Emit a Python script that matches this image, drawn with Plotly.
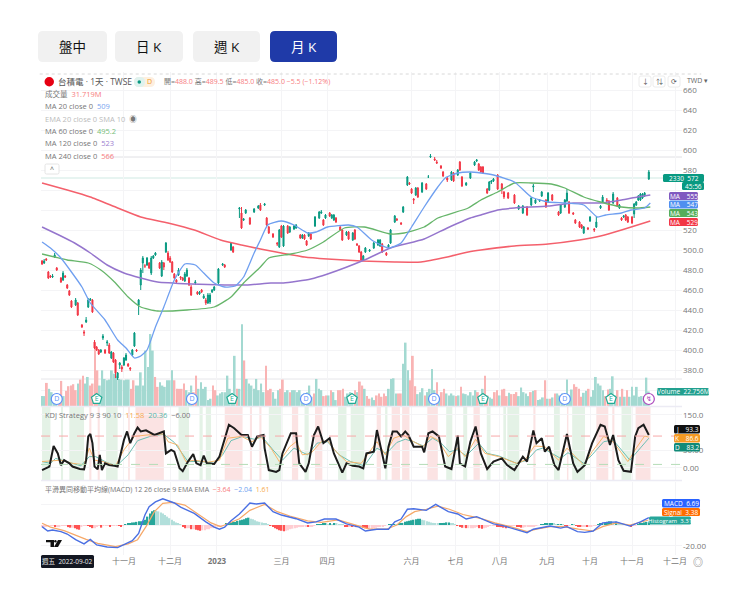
import numpy as np
import plotly.graph_objects as go

# chart box in page pixels
LEFT, RIGHT, TOP, BOTTOM = 41, 682, 72, 555
FONT = "Open Sans, Noto Sans CJK TC, sans-serif"
GREEN = "#089981"
RED = "#f23645"

# candles (bar number, open, close, high, low)
candle_idx = [0,1,2,3,4,5,6,7,9,10, 11,12,13,14,16,17,19,20,21,22, 23,24,25,26,27,28,29,30,31,32,
    33,34,35,36,37,38,39,40,41,42, 43,44,45,46,47,48,49,50,51,52, 53,54,56,57,58,59,60,61,62,63,
    64,65,66,67,68,69,70,71,73,74, 75,76,77,78,79,80,81,82,84,86, 87,90,91,94,95,96,97,99,101,103,
    104,106,107,108,110,112,113,114,115,117, 118,120,121,123,124,125,126,127,128,130,
    132,133,134,135,137,138,139,140,142,143, 145,146,148,149,150,151,152,153,154,156,
    158,160,161,162,164,165,166,168,169,171, 172,174,175,176,177,178,179,181,183,184,
    185,187,188,190,191,193,195,196,198,199, 200,202,204,206,207,208,209,210,212,213,
    214,215,217,219,220,222,225,227,229,231, 233,234,235,237,238,240,241,243,246,247,
    249,250,251,253,254,256,257,258,260,261, 263,264,266,267,269,270,272,274,275,276,
    277,278,279,281,282,283,284,285,286,287, 289]
opens = [489,487,491,478,474,473,493,482,472,470, 474,465,459,449,445,447,425,418,428,443, 450,450,408,403,400,398,412,400,407,405,
    392,397,390,372,385,383,385,390,386,382, 395,404,400,445,465,487,484,485,487,477, 492,495,487,474,487,498,497,492,488,476,
    470,475,473,472,469,474,472,463,467,458, 456,460,452,450,447,448,458,460,467,485, 485,500,503,541,537,530,537,532,538,542,
    545,545,532,523,516,507,503,524,504,524, 518,521,522,515,512,515,509,514,516,524,
    532,537,530,532,537,532,530,532,523,520, 515,518,510,520,506,504,498,490,498,499,
    502,505,504,506,497,503,507,528,531,527, 538,565,567,561,551,555,562,558,566,573,
    593,591,588,584,578,572,570,577,575,588, 573,565,572,585,589,586,583,583,561,560,
    568,569,575,566,558,557,555,541,537,543, 545,563,547,549,554,550,548,555,538,537,
    543,549,548,537,530,528,525,517,522,529, 521,523,542,548,550,549,547,552,542,532,
    533,535,533,533,536,545,550,550,552,554, 571]
closes = [486,489,490,472,473,474,495,480,468,477, 473,462,455,443,450,435,423,417,430,450, 451,438,402,400,396,400,414,397,408,397,
    398,388,377,377,387,381,392,395,384,381, 400,417,399,450,480,492,484,492,482,492, 494,497,482,488,483,507,490,488,478,472,
    468,480,472,470,476,480,465,455,468,456, 458,458,454,447,455,455,460,463,481,486, 483,507,498,542,522,531,540,526,541,544,
    540,546,525,517,513,506,520,513,524,517, 523,524,525,512,515,511,505,517,511,533,
    538,538,525,535,534,535,535,528,520,510, 518,511,517,511,505,498,490,494,502,500,
    507,510,510,498,495,505,520,534,530,526, 543,573,566,557,550,562,553,567,561,573,
    594,590,587,582,574,570,578,569,580,580, 564,567,577,588,590,580,578,577,557,568,
    569,571,561,561,553,552,547,544,544,535, 552,564,550,550,558,543,557,550,535,545,
    550,557,537,536,527,523,522,523,521,533, 520,528,544,553,549,540,556,544,545,530,
    534,530,528,527,546,548,554,556,556,557, 578]
highs = [490,491,492,479,475,476,497,483,473,479, 475,466,460,450,452,448,426,420,433,452, 452,451,410,404,401,401,416,401,410,407,
    399,398,391,378,388,385,393,397,387,383, 401,418,401,451,482,494,486,493,488,494, 495,498,488,490,488,508,499,494,489,477,
    471,482,474,473,478,482,473,465,470,459, 459,461,456,452,457,457,461,464,482,487, 486,508,504,543,543,532,541,533,542,545,
    547,547,533,524,517,508,521,525,525,525, 524,525,526,516,516,516,510,518,517,534,
    539,540,531,536,538,536,536,533,524,521, 519,519,518,521,507,505,499,495,503,501,
    508,511,511,507,498,506,521,535,532,528, 544,574,568,562,552,563,563,568,567,575,
    596,593,590,585,579,573,579,578,581,589, 574,568,578,589,591,587,584,584,562,569,
    570,572,576,567,559,558,556,545,545,544, 553,566,551,551,559,551,558,556,539,546,
    551,561,549,538,531,529,526,524,523,534, 522,534,545,555,552,550,558,553,546,533,
    535,536,534,534,547,549,555,557,557,558, 580]
lows = [485,486,489,471,472,472,492,479,467,469, 472,461,454,442,444,434,422,414,427,442, 449,437,401,399,395,397,410,396,404,396,
    391,387,372,370,381,378,384,389,383,379, 394,403,398,435,460,477,482,484,481,475, 491,494,481,473,480,497,489,487,477,471,
    466,474,470,469,468,473,464,454,465,455, 455,457,451,445,446,446,457,459,466,484, 482,499,497,532,521,529,536,525,537,541,
    539,544,524,516,512,504,502,512,503,516, 517,520,521,511,511,510,504,513,510,523,
    531,536,524,531,533,531,529,527,519,509, 514,510,509,510,504,497,489,489,497,498,
    501,504,503,497,494,502,506,527,529,525, 537,564,565,556,546,554,552,557,560,572,
    592,589,586,581,573,568,569,568,574,579, 563,564,571,584,588,579,577,576,556,559,
    566,568,560,556,551,551,546,540,536,534, 544,558,546,548,553,542,547,549,534,536,
    542,548,536,535,526,522,521,516,520,528, 518,522,541,547,548,539,546,543,541,529,
    532,529,527,526,532,544,549,549,551,553, 570]

# moving averages, corner points
ma20_idx = [0,4,9,14,19,23,30,36,40,44,47,50,54,58,63,68,73,77,82,87,92,96,101,104,107.5,114,120,126.5,130.5,136,146,150,157,165,171,176,182,188.5,192,198,204,209,215,225,233,241,249,258,264.5,268.5,276,280.5,287,289.7]
ma20_val = [508,502,492,478,463,447,430,410,402,392,394,400,423,443,470,486,485,477,467,463,464,473,497,510,525,529,525,517,518,523,525,523,510,502,507,523,543,563,572,577,578,577,575,568,553,548,547,545,533,535,537,540,542,547]
ma60_idx = [0,6,12,22,28,34.5,41,47,55,69,82,90,96,104,108,118.5,126.5,134,144,153.5,166,172.5,182,188.5,203,209,217,225,233,242.5,249,258,266,276,283.6,289.7]
ma60_val = [496,493,490,487,480,468,453,443,439,440,443,453,467,483,492,496,500,508,522,523,516,517,523,532,542,550,558,567,567,566,562,553,548,543,542,543]
ma120_idx = [0,8,15.5,23,31,39,47,55,71,87,98,109,115,128,136,153.5,166,182,193,204,209,217,225,241,253,266,276,283.6,289.7]
ma120_val = [523,515,507,497,485,477,472,468,466,465,465,467,467,471,476,490,502,511,522,532,535,540,542,544,547,547,550,553,555]
ma240_idx = [0,12,23,36,47,60,72.5,85,95,104,114,125,136,152,168,180.5,193,203,209,225,241,256,266,276,289.7]
ma240_val = [567,560,553,542,533,527,520,510,505,501,497,493,491,489,488,488,493,498,500,504,506,510,514,520,529]

# volume in millions, minus means a red bar
volume = [15,15,-35,26,21,15,16,-18,-38,15, -23,-30,-31,-33,-24,34,-40,-46,34,44, -31,-34,-96,-54,31,54,41,39,40,54,
    49,46,41,40,39,40,40,-26,-39,31, 31,51,31,84,59,109,84,-44,-29,36, 31,29,39,39,54,-39,-26,-26,-26,-34,
    24,21,31,-21,-46,26,36,26,29,9, 11,-31,-24,16,19,21,21,46,26,14, 76,-26,26,124,-69,41,34,31,26,41,
    24,34,21,-61,-24,-26,21,11,24,-26, -40,21,24,-21,24,24,21,24,14,19, 21,31,14,-19,41,26,24,-15,-16,16,
    -24,21,9,-24,-24,-26,14,19,21,16, -24,21,-37,-31,26,-15,-11,
    13,9,-16,-19,-14,-19,-15,26,41,42, 19,-19,-19,64,96,54,-39,-76,-30,18, 21,27,-16,21,26,56,24,-36,11,-21,
    -26,19,16,19,16,-15,16,-29,19,18, 16,21,16,24,-21,16,26,-46,-16,13, 11,-21,-24,16,-25,-26,-15,20,-18,-18,
    -21,15,28,21,19,15,-21,23,-24,9, 10,13,-39,11,-11,13,-19,19,16,19, 13,40,16,25,-33,-29,-26,-14,20,23,
    -26,14,24,44,34,31,24,-15,-25,26, 45,16,-24,14,-26,14,-24,14,29,16, 29,14,15,15,43,22]

# KDJ pane
j_idx = [0,2,3.5,5.5,7.5,9,10.5,13,14.5,18,20,21,22,23,24,25,26.5,27.5,28.5,30,32,34.5,36,37.5,39,40.5,42,44,45.5,47,49.5,53.5,58,59,61.5,63,65.5,67,69.5,72,73.5,75.5,77,78.5,82,84.5,86.5,89,91.5,95,98,100,102.5,105.5,106,108,111.5,113,114.5,118.5,121,122.5,125.5,127,129.5,131.5,134,137,139,141.5,143,145,148,151,153,154.5,
    158,159.5,161,163.5,165,167,169,171,173,174.5,177,181,182,184,186,189,192,195,198,199,201.5,204,206.5,209,212,215,219,221.5,225,229,231,234,235.5,238,239.5,241.5,244,246,250,253,255,258.5,262,266,268,270.5,272,274.5,277,280.5,282.5,284,286.5,289]
j_val = [-6,-1,4,62,41,8,22,13,4,-3,-4,22,89,96,70,4,-4,37,-6,13,8,6,4,41,79,103,70,98,114,103,106,93,103,41,51,46,-1,-9,18,39,13,8,35,13,11,32,74,122,112,93,93,60,89,93,56,-6,-11,-6,41,98,98,13,-11,13,93,117,70,84,41,4,-13,13,6,4,-1,41,
    46,107,65,-1,60,103,103,89,103,93,60,60,44,98,103,89,4,-3,91,13,4,74,117,41,-3,18,27,8,-6,32,18,106,70,84,46,60,8,-6,96,13,-11,8,70,122,117,65,93,22,-8,-11,89,112,122,93]
k_idx = [0,4,9,14.5,20,22.5,25,29,35,39,44,50,58,60,64.5,68.5,72.5,79,84.5,88.5,95,100,104,109,113,118,121,124,128,133,136,140,145,152,159.5,163.5,167.5,172,177,181.5,185,188.5,193.5,198,201.5,206.5,211,217.5,226,230,234.5,239.5,246,250,258,262,267.5,272,279,283,287,289]
k_val = [18,20,22,13,9,56,22,18,6,51,89,93,96,74,65,18,22,16,22,84,89,74,89,56,18,60,74,37,41,74,77,46,18,13,74,37,84,93,74,60,89,79,32,56,32,81,41,32,13,22,62,60,22,56,8,46,89,74,18,56,90,87]
d_idx = [0,4,6.5,12,18.5,22.5,25.5,31,35.5,41,45.5,52,58,63,69.5,76,82,86,90,95.5,101,105,110,114.5,120,126.5,131,136,141.5,147,153.5,159.5,164,169,173,177,181.5,186,190,194,198,202,208,212,217.5,226,231,235.5,238.5,247,250.5,258,262,267.5,272,280,285,289]
d_val = [18,13,27,18,6,32,32,15,6,37,77,90,95,72,18,18,13,37,77,89,81,87,51,22,56,37,70,74,37,18,6,56,41,72,81,74,62,84,70,46,51,34,70,41,34,13,22,51,56,27,43,13,37,74,79,22,56,84]
kdj_red = [(22.5,23.5),(26.5,27.5),(41,41.8),(44.5,58),(87,95.5),(99,100),(103.5,104.5),(119,122),(130,133.5),(159.4,161.4),(166.5,170.5),(171.5,175),(183.5,188.5),(205.5,208.5),(234,235),(250,250.7),(264,269.7),(271.6,272.6),(282.7,289.8)]
kdj_green = [(0,4),(9,10),(13,20),(30.5,36),(65,70),(75,76.5),(78,80.5),(108,114.5),(125,127),(141,145),(147,153.5),(163.4,164.5),(192.5,195.4),(200.6,202.5),(211.8,213.6),(219.7,221),(221.6,227.3),(243.8,246.6),(252.5,258.6),(276,280.7)]

# MACD pane
macd_idx = [0,2.7,5,9,12,16,20,23,26,31,36,40,43,46,49,51,54,57.5,63,66,72.5,78,82,84.5,87,90,94,99,102,106,110,114,121,126.5,130.5,134.5,140,145,151,154,159.4,165,168,171,174,177,183,187.5,191,193.5,198,202,207,211,215,219.5,226,231,234,242,247,250,255,258.5,262.5,267,273.5,280,285,289]
macd_val = [-1.6,-5.7,-4.8,-6.3,-8.6,-14,-18,-13.7,-19,-21,-21.6,-17.5,-15,-8,9.5,17.5,22,25,21,17,11,3,-2,-4,-2,4,10.5,21,20,21,12.7,9.5,6,2,3,5.7,5.7,1,-2,-5.7,-4,-4,3,5.7,15,15.5,14,19.7,16,12.7,10.5,5.7,8,4.8,1,-0.6,-4.8,-7.3,-4,-1,-3,-1.6,-6.3,-7,-5.7,2,3,-1,3,7]
signal_idx = [0,4,10.5,15.5,21,26.5,35,41,45.5,49.5,53.5,57.5,62,68,74,80.5,85,89,94,99,106,112,118,126.5,133,141,147,156,164,169,173.5,177.5,183,188.5,194,200.5,205,209.5,215.7,223,231,235.5,242,248,255.5,262.5,267,273.5,280,289]
signal_val = [1.6,-2,-5.4,-9.5,-13.7,-17.5,-20.6,-18,-14,-1.6,12.7,20.6,21.6,19,11,2,-1.6,2,6,14,19.7,12.7,8.6,4,2.5,4.8,1,-4,-4,0,8,12.7,15,18,15,10,8,6,2,-1.6,-6.3,-4,-1.6,-1.6,-4,-5.7,-1.6,2,0,4.8]
hist = [-1.5,-1.5,-1,-0.5,-0.5,-0.3,-2,-2,-2,-0.5,-0.5,-0.3,-2,-2.5,-2.5,-3,-4,-4.5,-1,-0.3,-0.3,-0.5,-1,-3,-3,-1,-0.5,-2.5,-0.3,-0.3,-0.3,-1,-0.5,-0.3,-0.2,-0.5,-1.5,-0.3,0.3,1,2,2.5,2.5,3,3.5,3.5,4,5,8,11,13,14,13.5,13,12,11,9.5,8,6.5,5,3.5,2.5,1.5,0.5,-1.5,-3,-3,-3,-4,-4,-4.5,-5,-5.5,-5,-5,-4,-4,-3,-3,-2.5,-2,-1.5,-0.5,0,1,1.5,2.5,3,3,4,4.5,5,5.5,6.5,7,6,5.5,4.5,3.5,3,2.5,2,1,0.5,-0.5,-1.5,-3,-4,-5,-5.5,-6,-5.5,-5,-4,-3.5,-3,-2.5,-2,-2,-1.5,-1.5,-2,-2,-1.5,-0.5,0.3,0.5,0.8,1,1,0.8,1,0.8,1.2,1,0.8,0.5,0.2,-1,-1.5,-1.5,-2,-1.5,-2,-1.5,-1.5,-2.5,-3,-3.5,-3.5,-3.5,-3,-2.5,-2,
    -1.5,-1,-0.5,0,0.3,0.5,0.5,0.3,0.3,1,2,3,3.5,4,4.5,5,5.5,6,6,5,4.5,3.5,3,2.5,2,1.5,1,1,1.5,2,2.5,2.5,2,1.5,0.5,-0.5,-2,-2.5,-2.5,-3,-3,-3,-3,-2.5,-2,-3,-3.5,-3,-2.5,-1,-0.5,-0.5,-0.5,-1,-1.5,-2,-2.5,-3,-1.5,-1,-0.5,-0.5,-1,-2,-2.5,-2.5,-2,-2,-2,-1.5,-1,-0.5,0,0.5,0.5,1,1,1.5,1.5,1,0.5,0.5,0.5,0.3,-0.3,-0.5,-0.3,0.5,0.3,-0.5,-1,-1.5,-1.5,-1.5,-2,-1.5,-1,-0.5,-0.3,0.3,1,1.5,2.5,3,3.5,3.5,3,3,2.5,1.5,1,0.5,0,-0.5,-1,-0.5,-0.3,0.3,1,2,2.5,3,3.3]

# axis labels
month_idx = [39,61,83.3,114,136,176,197,218,240.5,261,281,301.5]
month_txt = ["十一月","十二月","<b>2023</b>","三月","四月","六月","七月","八月","九月","十月","十一月","十二月"]
price_ticks = [660,640,620,600,580,560,540,520,500,480,460,440,420,400,380,360]
price_txt = ["660","640","620","600","580","","","520","500.0","480.0","460.0","440.0","420.0","400.0","380.0",""]

# event flags under the volume bars
div_idx = [7,71.4,125.7,186.7,249]
earn_idx = [26,90.5,147.6,210,271]
split_idx = [289]

last_price = 572
WIDTH_P = RIGHT - LEFT
HEIGHT_P = BOTTOM - TOP


def xp(x):
    return (x - LEFT) / WIDTH_P


def yp(y):
    return (BOTTOM - y) / HEIGHT_P


def round_box(x0, y0, x1, y1, r, fill, line="rgba(0,0,0,0)"):
    a, b, c, d = xp(x0), xp(x1), yp(y0), yp(y1)
    rx, ry = r / WIDTH_P, r / HEIGHT_P
    path = (f"M {a+rx} {c} L {b-rx} {c} Q {b} {c} {b} {c-ry} L {b} {d+ry} Q {b} {d} {b-rx} {d} "
            f"L {a+rx} {d} Q {a} {d} {a} {d+ry} L {a} {c-ry} Q {a} {c} {a+rx} {c} Z")
    return dict(type="path", xref="paper", yref="paper", path=path, fillcolor=fill,
                line=dict(color=line, width=1), layer="above")


def poly(points, fill):
    path = "M " + " L ".join(f"{xp(x)} {yp(y)}" for x, y in points) + " Z"
    return dict(type="path", xref="paper", yref="paper", path=path, fillcolor=fill, line_width=0, layer="above")


def text_at(x, y, s, size=7.5, color="#777", anchor="left", bg=None):
    return dict(xref="paper", yref="paper", x=xp(x), y=yp(y), text=s, showarrow=False,
                xanchor=anchor, yanchor="middle", font=dict(family=FONT, size=size, color=color),
                borderpad=0, bgcolor=bg)


shapes = []
notes = []


def tag(x0, x1, y0, y1, color, s, size=6.5):
    shapes.append(round_box(x0, y0, x1, y1, 1.5, color))
    notes.append(text_at((x0 + x1) / 2, (y0 + y1) / 2, s, size=size, color="white", anchor="center"))


fig = go.Figure()

vol = np.array(volume, dtype=float)
vol_x = np.arange(len(vol)) * 289 / (len(vol) - 1)
fig.add_trace(go.Bar(x=vol_x, y=np.abs(vol), width=0.85, yaxis="y",
                     marker=dict(color=["#a3d9d1" if v > 0 else "#f9b4b4" for v in vol], line_width=0)))

smooth = dict(shape="spline", smoothing=0.5)
fig.add_trace(go.Scatter(x=ma240_idx, y=ma240_val, yaxis="y2", mode="lines", line=dict(color="#f4606c", width=1.6, **smooth)))
fig.add_trace(go.Scatter(x=ma120_idx, y=ma120_val, yaxis="y2", mode="lines", line=dict(color="#9575cd", width=1.5, **smooth)))
fig.add_trace(go.Scatter(x=ma60_idx, y=ma60_val, yaxis="y2", mode="lines", line=dict(color="#66b56a", width=1.3, **smooth)))
fig.add_trace(go.Scatter(x=ma20_idx, y=ma20_val, yaxis="y2", mode="lines", line=dict(color="#6f9ff0", width=1.3, **smooth)))

fig.add_trace(go.Candlestick(x=candle_idx, open=opens, high=highs, low=lows, close=closes, yaxis="y2",
                             whiskerwidth=0,
                             increasing=dict(line=dict(color=GREEN, width=1), fillcolor=GREEN),
                             decreasing=dict(line=dict(color=RED, width=1), fillcolor=RED)))

# flags
fig.add_trace(go.Scatter(x=div_idx, y=[351] * len(div_idx), yaxis="y2", mode="markers+text", text=["D"] * len(div_idx),
                         textposition="middle center", textfont=dict(size=7, color="#5b8ff9", family=FONT),
                         marker=dict(symbol="circle", size=11, color="white", line=dict(color="#5b8ff9", width=1.2))))
fig.add_trace(go.Scatter(x=earn_idx, y=[351] * len(earn_idx), yaxis="y2", mode="markers+text", text=["E"] * len(earn_idx),
                         textposition="middle center", textfont=dict(size=7, color="#22ab94", family=FONT),
                         marker=dict(symbol="pentagon", size=11, color="white", line=dict(color="#22ab94", width=1.2))))
fig.add_trace(go.Scatter(x=split_idx, y=[351], yaxis="y2", mode="markers+text", text=["↯"],
                         textposition="middle center", textfont=dict(size=7, color="#ab47bc", family="DejaVu Sans"),
                         marker=dict(symbol="circle", size=11, color="white", line=dict(color="#ab47bc", width=1.2))))

# KDJ
fig.add_trace(go.Scatter(x=d_idx, y=d_val, yaxis="y3", mode="lines", line=dict(color="#6dbfb3", width=1)))
fig.add_trace(go.Scatter(x=k_idx, y=k_val, yaxis="y3", mode="lines", line=dict(color="#f7b56b", width=1)))
fig.add_trace(go.Scatter(x=j_idx, y=j_val, yaxis="y3", mode="lines", line=dict(color="#1c1c1c", width=2)))

# MACD
h = np.array(hist)
h_x = np.arange(len(h)) * 289 / (len(h) - 1)
h_step = np.diff(h, prepend=h[0])
h_col = []
for v, s in zip(h, h_step):
    if v >= 0:
        h_col.append("#26a69a" if s >= 0 else "#b2dfdb")
    else:
        h_col.append("#ff5252" if s < 0 else "#ffcdd2")
fig.add_trace(go.Bar(x=h_x, y=h, width=0.7, yaxis="y4", marker=dict(color=h_col, line_width=0)))
fig.add_trace(go.Scatter(x=signal_idx, y=signal_val, yaxis="y4", mode="lines", line=dict(color="#f6a868", width=1.2)))
fig.add_trace(go.Scatter(x=macd_idx, y=macd_val, yaxis="y4", mode="lines", line=dict(color="#4a6fe3", width=1.4)))

# KDJ background bands
for a, b in kdj_red:
    shapes.append(dict(type="rect", xref="x", yref="y3 domain", x0=a, x1=b, y0=0, y1=1, fillcolor="#fbe3e3", line_width=0, layer="below"))
for a, b in kdj_green:
    shapes.append(dict(type="rect", xref="x", yref="y3 domain", x0=a, x1=b, y0=0, y1=1, fillcolor="#e4f2e6", line_width=0, layer="below"))

# KDJ bands 90/10 and horizontal lines
shapes.append(dict(type="line", xref="paper", yref="y3", x0=0, x1=1, y0=90, y1=90, line=dict(color="#f7a8a8", width=1, dash="dash")))
shapes.append(dict(type="line", xref="paper", yref="y3", x0=0, x1=1, y0=10, y1=10, line=dict(color="#b5dcb7", width=1, dash="dash")))
shapes.append(dict(type="line", xref="paper", yref="y2", x0=0, x1=xp(663), y0=last_price, y1=last_price, line=dict(color="#cfe9e3", width=1), layer="below"))
shapes.append(dict(type="line", xref="paper", yref="y2", x0=xp(105), x1=1, y0=593, y1=593, line=dict(color="#e0e0e4", width=1), layer="below"))
shapes.append(dict(type="line", xref="paper", yref="y2", x0=0, x1=1, y0=371, y1=371, line=dict(color="#e6e6ea", width=1), layer="below"))
# pane borders
for y in (406.5, 480.5):
    shapes.append(dict(type="line", xref="paper", yref="paper", x0=0, x1=1, y0=yp(y), y1=yp(y), line=dict(color="#ecebf4", width=1.5)))
shapes.append(dict(type="line", xref="paper", yref="paper", x0=-0.002, x1=1.03, y0=yp(74), y1=yp(74), line=dict(color="#d8d8d8", width=1, dash="dot")))

# page buttons
for x0, x1, s, fill, col in [(38, 107, "盤中", "#f1f1f1", "#111"), (115, 183, "日 K", "#f1f1f1", "#111"),
                             (193, 260, "週 K", "#f1f1f1", "#111"), (270, 337, "月 K", "#1f3aa8", "white")]:
    shapes.append(round_box(x0, 31, x1, 62, 5, fill))
    notes.append(text_at((x0 + x1) / 2, 47, s, size=13.5, color=col, anchor="center"))

# legend block
shapes.append(dict(type="circle", xref="paper", yref="paper", x0=xp(44.5), x1=xp(54), y0=yp(86.5), y1=yp(77), fillcolor="#e60012", line_width=0))
notes.append(text_at(57, 82, "台積電 · 1天 · TWSE", size=8.5, color="#555"))
shapes.append(round_box(134, 77, 155, 87, 5, "#fdf0e0"))
shapes.append(round_box(134, 77, 145, 87, 5, "#dff2ee"))
shapes.append(dict(type="circle", xref="paper", yref="paper", x0=xp(137.5), x1=xp(141), y0=yp(83.7), y1=yp(80.2), fillcolor=GREEN, line_width=0))
notes.append(text_at(149, 82, "D", size=7, color="#f59a23", anchor="center"))
s_red = "#f77c80"
notes.append(text_at(163, 82, f'開=<span style="color:{s_red}">488.0</span> 高=<span style="color:{s_red}">489.5</span> 低=<span style="color:{s_red}">485.0</span> 收=<span style="color:{s_red}">485.0</span> <span style="color:{s_red}">−5.5 (−1.12%)</span>', size=7))
notes.append(text_at(44, 94, f'成交量  <span style="color:{s_red}">31.719M</span>'))
notes.append(text_at(44, 106, 'MA 20 close 0  <span style="color:#7aa5f0">509</span>'))
notes.append(text_at(44, 118.5, 'EMA 20 close 0 SMA 10  <span style="color:#777">◉</span>', color="#bbb"))
notes.append(text_at(44, 131, 'MA 60 close 0  <span style="color:#74bd78">495.2</span>'))
notes.append(text_at(44, 143, 'MA 120 close 0  <span style="color:#9c80d0">523</span>'))
notes.append(text_at(44, 156, f'MA 240 close 0  <span style="color:{s_red}">566</span>'))
shapes.append(round_box(45, 164, 59, 174, 1.5, "white", "#e4e4e4"))
notes.append(text_at(52, 169, "^", size=7, color="#555", anchor="center"))
notes.append(text_at(44, 415, 'KDJ Strategy 9 3 90 10  <span style="color:#f7a94e">11.58</span>  <span style="color:#59b5a8">20.36</span>  <span style="color:#777">−6.00</span>'))
notes.append(text_at(44, 489, f'平滑異同移動平均線(MACD) 12 26 close 9 EMA EMA  <span style="color:{s_red}">−3.64</span>  <span style="color:#6f9ff0">−2.04</span>  <span style="color:#f7a94e">1.61</span>', size=7))

# top right controls
for x0, x1, s in [(639, 651, "↓"), (653, 665, "⇅"), (668, 680, "⟳")]:
    shapes.append(round_box(x0, 76, x1, 87, 2, "white", "#ececec"))
    notes.append(text_at((x0 + x1) / 2, 81.5, s, size=7, color="#555", anchor="center"))
notes.append(text_at(686, 80, "TWD ▾", size=7, color="#666"))

# price side tags
tag(663, 704, 174, 182, GREEN, "2330  572")
tag(682, 704, 182, 190, GREEN, "45:56")
tag(669, 698, 192, 200, "#8059c0", "MA    555")
tag(669, 698, 200.5, 208.5, "#4f8ff0", "MA    547")
tag(669, 698, 209, 217, "#55ad5a", "MA    543")
tag(669, 698, 218, 226, "#f23645", "MA    529")
tag(657, 709, 388, 395.5, "#22a08f", "Volume  22.756M", size=6.5)
tag(674, 700, 425, 433.5, "#111111", "J    93.3")
tag(674, 700, 434, 442.5, "#f59a23", "K    86.6")
tag(674, 700, 443, 451.5, "#108a78", "D    83.2")
tag(662, 700, 499, 507.5, "#2962ff", "MACD  6.69")
tag(662, 700, 508, 516, "#ff6d00", "Signal  3.38")
tag(649, 691, 516.5, 524.5, "#26a69a", "Histogram  3.31", size=6)

# bottom bits
shapes.append(round_box(41, 555, 94, 568, 1.5, "#131722"))
notes.append(text_at(67.5, 561.5, "週五  2022-09-02", size=6.5, color="#e8e8e8", anchor="center"))
# TradingView mark
shapes.append(poly([(46, 540), (54, 540), (54, 547), (50.5, 547), (50.5, 542.2), (46, 542.2)], "#111"))
shapes.append(dict(type="circle", xref="paper", yref="paper", x0=xp(54.2), x1=xp(56.6), y0=yp(542.4), y1=yp(540), fillcolor="#111", line_width=0, layer="above"))
shapes.append(poly([(58, 540), (62, 540), (58, 547), (54, 547)], "#111"))
notes.append(text_at(698, 561.5, "◎", size=10, color="#777", anchor="center"))

fig.update_layout(
    width=750, height=607, autosize=False, showlegend=False, plot_bgcolor="white", paper_bgcolor="white",
    margin=dict(l=LEFT, r=750 - RIGHT, t=TOP, b=607 - BOTTOM),
    font=dict(family=FONT, size=8, color="#777"),
    barmode="overlay", hovermode=False, shapes=shapes, annotations=notes,
    xaxis=dict(range=[-0.5, 304.8], anchor="y4", tickmode="array", tickvals=month_idx, ticktext=month_txt,
               showgrid=True, gridcolor="#f4f4f6", zeroline=False, showline=False, ticks="", rangeslider=dict(visible=False),
               tickfont=dict(size=8, color="#777")),
    yaxis=dict(domain=[yp(406), 1], range=[0, 506], visible=False, showgrid=False, fixedrange=True),
    yaxis2=dict(domain=[yp(406), 1], range=[344, 678], overlaying="y", side="right", anchor="x", tickmode="array",
                tickvals=price_ticks, ticktext=price_txt, showgrid=True, gridcolor="#f4f4f6", zeroline=False, ticks="",
                tickfont=dict(size=8, color="#777")),
    yaxis3=dict(domain=[yp(480), yp(407)], range=[-34, 172], side="right", anchor="x", tickmode="array",
                tickvals=[150, 50, 0], ticktext=["150.0", "50.00", "0.00"], showgrid=True, gridcolor="#f4f4f6",
                zeroline=False, ticks="", tickfont=dict(size=8, color="#777")),
    yaxis4=dict(domain=[0, yp(482)], range=[-28.6, 41], side="right", anchor="x", tickmode="array",
                tickvals=[-20, 0, 20], ticktext=["-20.00", "", ""], showgrid=True, gridcolor="#f4f4f6",
                zeroline=False, ticks="", tickfont=dict(size=8, color="#777")),
)

fig.write_html("out.html", config={"displayModeBar": False}, post_script="document.body.style.margin='0';")
